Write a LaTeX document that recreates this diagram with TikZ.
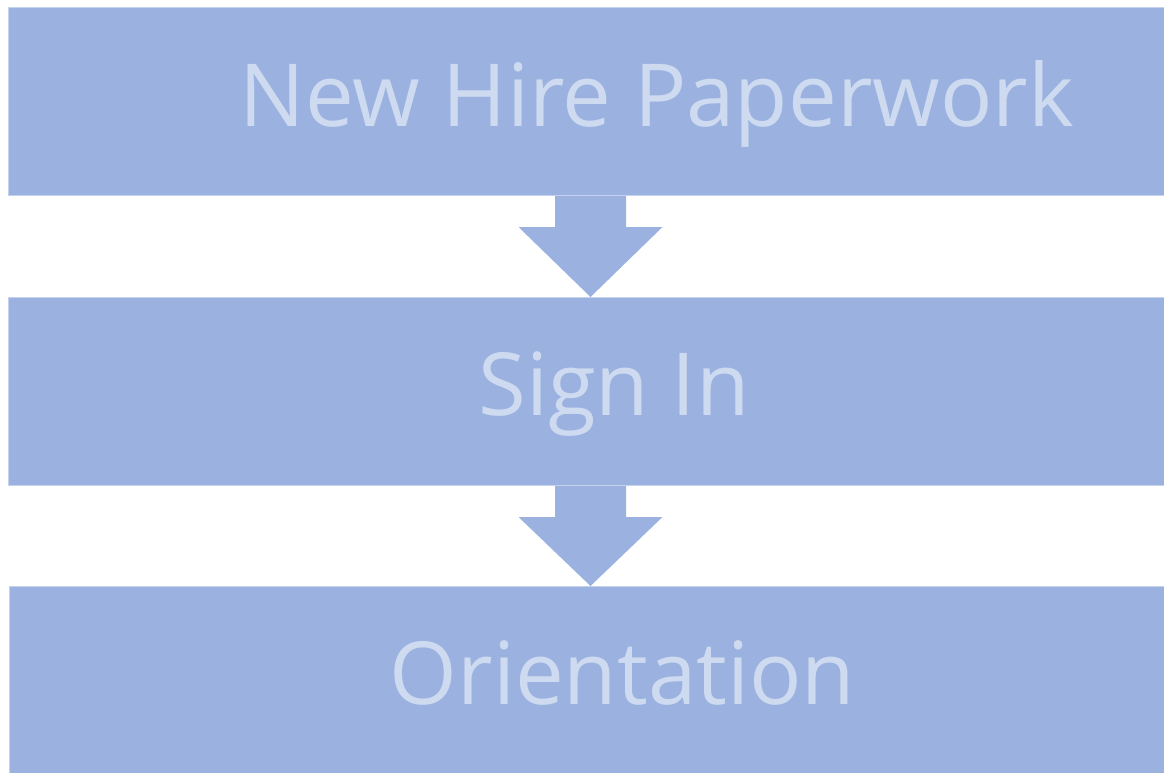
\documentclass[tikz,border=0pt]{standalone}
\usepackage{fontspec}
\setmainfont{Open Sans}
\usetikzlibrary{calc}

\definecolor{stagefill}{RGB}{155,178,224}
\definecolor{stageedge}{RGB}{196,210,238}
\definecolor{stagetextcol}{RGB}{206,218,239}

% block arrow between two stages: #1 start on upper box, #2 tip on lower box
\newcommand{\stagearrow}[2]{%
  \fill[stagefill] ($(#1)+(-35.5,0)$) -- ($(#1)+(35.5,0)$) -- ($(#1)+(35.5,31)$)
    -- ($(#1)+(72,31)$) -- (#2) -- ($(#1)+(-72,31)$) -- ($(#1)+(-35.5,31)$) -- cycle;}

\begin{document}
\begin{tikzpicture}[x=1pt,y=-1pt,
  stage/.style={draw=stageedge,line width=1pt,fill=stagefill,anchor=north west,
    minimum width=1160pt,minimum height=188pt,inner sep=0pt},
  stagelabel/.style={text=stagetextcol,font=\fontsize{87}{90}\selectfont,anchor=base,inner sep=0pt}]
  \useasboundingbox (0,0) rectangle (1164,772);

  \node[stage] (paper) at (8,7) {};
  \node[stage] (sign) at (8,297) {};
  \node[stage,minimum height=190pt] (orient) at (9,586) {};

  \node[stagelabel] (papertxt) at (657,126) {New Hire Paperwork};
  \node[stagelabel] (signtxt) at (614,415) {Sign In};
  \node[stagelabel] (orienttxt) at (622.5,704) {Orientation};

  \coordinate (a1) at (paper.south -| 590.5,0);
  \coordinate (t1) at (sign.north -| 590.5,0);
  \coordinate (a2) at (sign.south -| 590.5,0);
  \coordinate (t2) at (orient.north -| 590.5,0);
  \stagearrow{a1}{t1}
  \stagearrow{a2}{t2}
\end{tikzpicture}
\end{document}
